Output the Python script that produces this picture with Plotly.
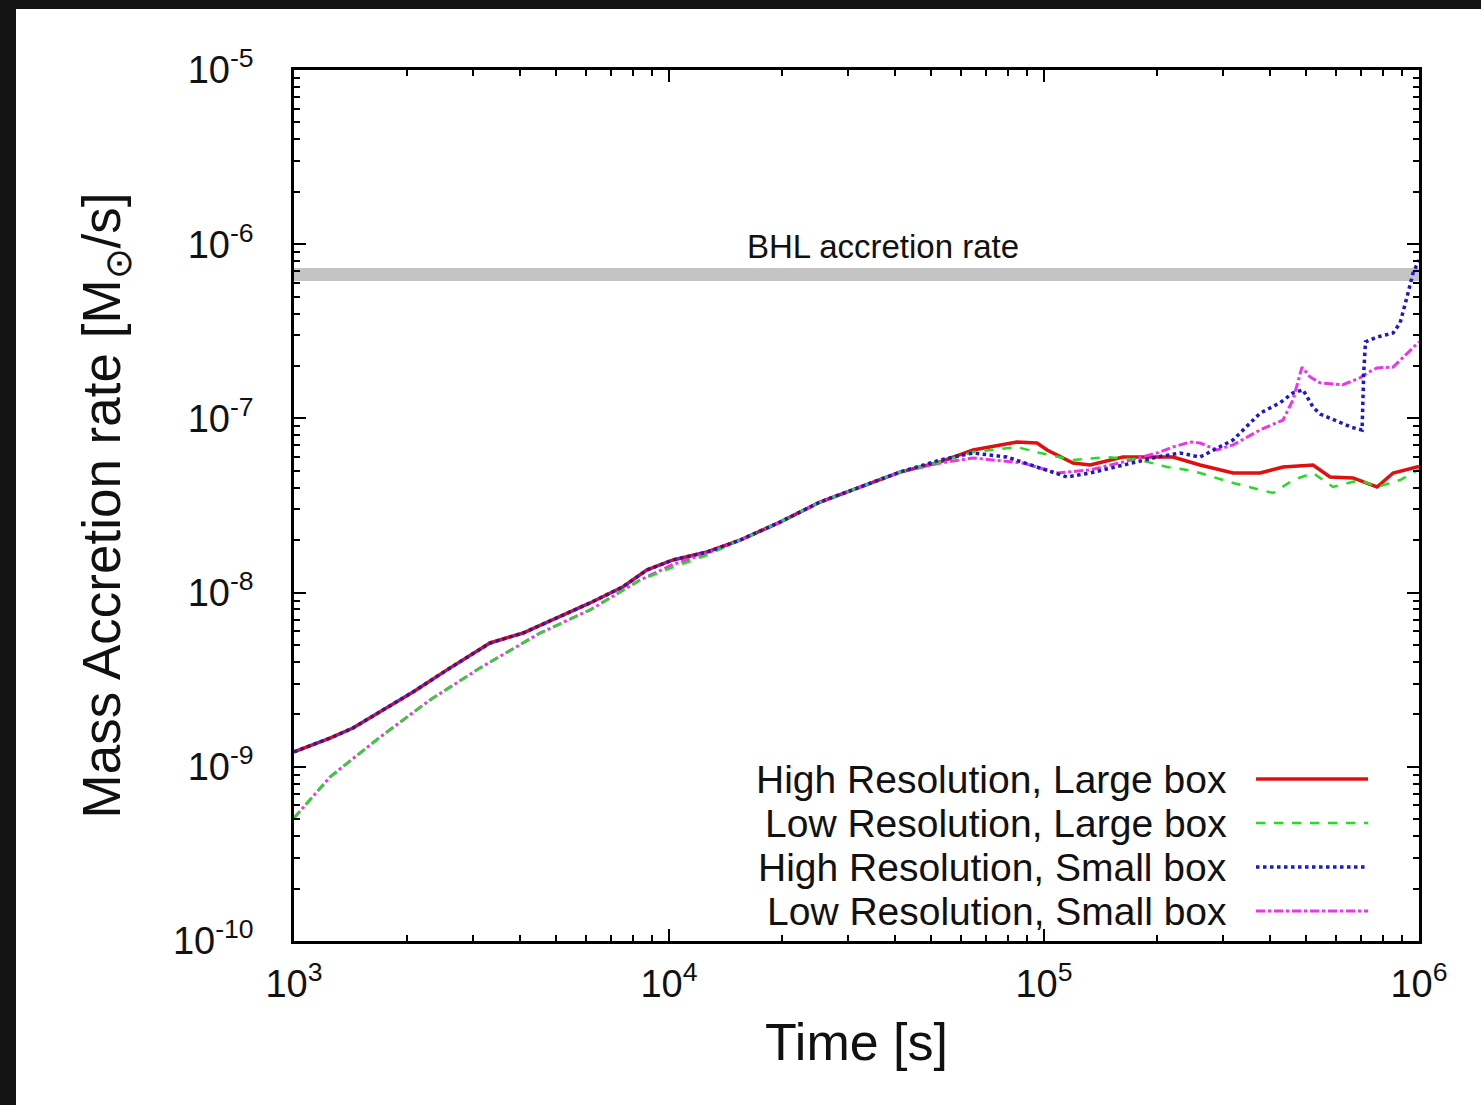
import plotly.graph_objects as go

# ---------------- data ----------------
red_t = [1000, 1247, 1436, 1696, 2077, 2559, 3332, 4080, 5027, 6156, 7539, 8737,
         10250, 12630, 15460, 19770, 25270, 32310, 41300, 52800, 64680, 84720,
         95790, 101900, 119500, 132700, 162400, 180300, 220800, 260600, 319200,
         376700, 433900, 521600, 579000, 666800, 772700, 852800, 987800, 1000000]
red_r = [1.22e-9, 1.46e-9, 1.67e-9, 2.06e-9, 2.69e-9, 3.60e-9, 5.14e-9, 5.86e-9,
         7.15e-9, 8.72e-9, 1.08e-8, 1.35e-8, 1.54e-8, 1.71e-8, 2.00e-8, 2.54e-8,
         3.31e-8, 4.04e-8, 4.92e-8, 5.62e-8, 6.59e-8, 7.32e-8, 7.22e-8, 6.59e-8,
         5.54e-8, 5.40e-8, 6.00e-8, 6.00e-8, 6.00e-8, 5.40e-8, 4.86e-8, 4.86e-8,
         5.26e-8, 5.40e-8, 4.61e-8, 4.55e-8, 4.04e-8, 4.86e-8, 5.26e-8, 5.30e-8]

green_t = [1000, 1247, 1696, 2305, 3133, 4529, 6156, 8369, 10250, 12630, 15460,
           19770, 25270, 32310, 41300, 52800, 64680, 84720, 97570, 119500, 147200,
           180300, 212800, 240600, 260600, 319200, 408100, 461300, 521600, 589800,
           696000, 772700, 890200, 1000000]
green_r = [5.08e-10, 8.74e-10, 1.48e-9, 2.42e-9, 3.69e-9, 5.86e-9, 7.95e-9, 1.18e-8,
           1.40e-8, 1.64e-8, 2.00e-8, 2.54e-8, 3.31e-8, 4.04e-8, 4.92e-8, 5.62e-8,
           6.41e-8, 6.85e-8, 6.33e-8, 5.77e-8, 6.00e-8, 5.77e-8, 5.26e-8, 5.06e-8,
           4.86e-8, 4.26e-8, 3.73e-8, 4.43e-8, 4.86e-8, 4.04e-8, 4.43e-8, 4.04e-8,
           4.43e-8, 5.10e-8]

blue_t = [1000, 1247, 1436, 1696, 2077, 2559, 3332, 4080, 5027, 6156, 7539, 8737,
          10250, 12630, 15460, 19770, 25270, 32310, 41300, 52800, 64680, 79650,
          97570, 115200, 132700, 162400, 200100, 230500, 260600, 319200, 376700,
          426000, 461300, 490600, 521600, 545000, 568500, 600000, 627000, 660000,
          705000, 712000, 720000, 772700, 852800, 890200, 929000, 963800, 1000000]
blue_r = [1.22e-9, 1.46e-9, 1.67e-9, 2.06e-9, 2.69e-9, 3.60e-9, 5.14e-9, 5.86e-9,
          7.15e-9, 8.72e-9, 1.08e-8, 1.35e-8, 1.54e-8, 1.71e-8, 2.00e-8, 2.54e-8,
          3.31e-8, 4.04e-8, 4.92e-8, 5.77e-8, 6.33e-8, 6.00e-8, 5.19e-8, 4.61e-8,
          4.86e-8, 5.40e-8, 6.00e-8, 6.33e-8, 6.00e-8, 7.52e-8, 1.07e-7, 1.23e-7,
          1.40e-7, 1.46e-7, 1.16e-7, 1.06e-7, 1.02e-7, 9.8e-8, 9.41e-8, 8.9e-8,
          8.58e-8, 1.82e-7, 2.75e-7, 2.93e-7, 3.09e-7, 3.53e-7, 4.98e-7, 6.83e-7,
          8.11e-7]

magenta_t = [1000, 1247, 1696, 2305, 3133, 4529, 6156, 8369, 10250, 12630, 15460,
             19770, 25270, 32310, 41300, 52800, 64680, 87900, 108300, 132700,
             162400, 200100, 220800, 245100, 260600, 289300, 319200, 376700, 433900,
             461300, 487500, 512100, 544500, 627000, 696000, 726600, 772700, 852800,
             906800, 987800, 1000000]
magenta_r = [5.08e-10, 8.74e-10, 1.48e-9, 2.42e-9, 3.69e-9, 5.86e-9, 7.95e-9,
             1.18e-8, 1.45e-8, 1.68e-8, 2.00e-8, 2.54e-8, 3.31e-8, 4.04e-8, 4.92e-8,
             5.54e-8, 5.93e-8, 5.54e-8, 4.86e-8, 5.06e-8, 5.62e-8, 6.33e-8, 6.85e-8,
             7.32e-8, 7.22e-8, 6.59e-8, 7.04e-8, 8.58e-8, 9.79e-8, 1.28e-7, 1.97e-7,
             1.73e-7, 1.60e-7, 1.56e-7, 1.71e-7, 1.82e-7, 1.95e-7, 1.97e-7, 2.25e-7,
             2.71e-7, 2.75e-7]

bhl_t = [1000, 1000000]
bhl_rate = 6.7e-7

series_names = ["High Resolution, Large box", "Low Resolution, Large box",
                "High Resolution, Small box", "Low Resolution, Small box"]

x_tickvals = [1e3, 1e4, 1e5, 1e6]
x_ticktext = ["10<sup>3</sup>", "10<sup>4</sup>", "10<sup>5</sup>", "10<sup>6</sup>"]
y_tickvals = [1e-10, 1e-9, 1e-8, 1e-7, 1e-6, 1e-5]
y_ticktext = ["10<sup>-10</sup>", "10<sup>-9</sup>", "10<sup>-8</sup>",
              "10<sup>-7</sup>", "10<sup>-6</sup>", "10<sup>-5</sup>"]
x_minor = [m * d for d in x_tickvals[:-1] for m in range(2, 10)]
y_minor = [m * d for d in y_tickvals[:-1] for m in range(2, 10)]

# ---------------- layout geometry ----------------
W, H = 1481, 1105
ML, MR, MT, MB = 294, 62, 70, 164
PW, PH = W - ML - MR, H - MT - MB


def px_x(px):
    return (px - ML) / PW


def px_y(py):
    return (H - MB - py) / PH


FONT = "Liberation Sans, Arial, Helvetica, sans-serif"

colors = ["#e01010", "#22dd22", "#1a1acc", "#ee33ee"]
dashes = ["solid", "dash", "dot", "dashdot"]
widths = [3.5, 2.5, 3.5, 3]

fig = go.Figure()

fig.add_trace(go.Scatter(x=bhl_t, y=[bhl_rate] * len(bhl_t), mode="lines",
                         line=dict(color="#c4c4c4", width=13),
                         name="BHL accretion rate", showlegend=False,
                         hoverinfo="skip"))

all_t = [red_t, green_t, blue_t, magenta_t]
all_r = [red_r, green_r, blue_r, magenta_r]
draw_order = [0, 3, 1, 2]
for i in draw_order:
    fig.add_trace(go.Scatter(x=all_t[i], y=all_r[i], mode="lines",
                             name=series_names[i], showlegend=False,
                             line=dict(color=colors[i], dash=dashes[i],
                                       width=widths[i])))

shapes = [
    dict(type="rect", xref="paper", yref="paper", layer="below",
         x0=px_x(16), x1=px_x(W + 5), y0=px_y(H + 5), y1=px_y(9),
         fillcolor="white", line=dict(width=0)),
]
annotations = [
    dict(text="BHL accretion rate", xref="paper", yref="y", x=px_x(883),
         y=-6.174, yanchor="bottom", yshift=8, showarrow=False,
         font=dict(family=FONT, size=33, color="#111")),
]

# gnuplot-style legend: text on the left, line sample on the right
leg_rows = [779, 823, 867, 911]
for i in range(4):
    annotations.append(dict(text=series_names[i], xref="paper", yref="paper",
                            x=px_x(1229), y=px_y(leg_rows[i]), xanchor="right",
                            yanchor="middle", showarrow=False,
                            font=dict(family=FONT, size=39, color="#111")))
    shapes.append(dict(type="line", xref="paper", yref="paper",
                       x0=px_x(1256), x1=px_x(1368), y0=px_y(leg_rows[i]),
                       y1=px_y(leg_rows[i]),
                       line=dict(color=colors[i], dash=dashes[i], width=widths[i])))

axis_common = dict(type="log", showline=True, linecolor="black", linewidth=2.5,
                   mirror="allticks", ticks="inside", ticklen=12, tickwidth=2,
                   tickcolor="black", showgrid=False, zeroline=False)

fig.update_xaxes(**axis_common, range=[3, 6], tickvals=x_tickvals,
                 ticktext=x_ticktext, ticklabelstandoff=8,
                 minor=dict(tickvals=x_minor, ticks="inside", ticklen=6,
                            tickwidth=1.5, tickcolor="black", showgrid=False),
                 tickfont=dict(family=FONT, size=38, color="#111"),
                 title=dict(text="Time [s]", standoff=20,
                            font=dict(family=FONT, size=52, color="#111")))
fig.update_yaxes(**axis_common, range=[-10, -5], tickvals=y_tickvals,
                 ticktext=y_ticktext, ticklabelstandoff=30,
                 minor=dict(tickvals=y_minor, ticks="inside", ticklen=6,
                            tickwidth=1.5, tickcolor="black", showgrid=False),
                 tickfont=dict(family=FONT, size=38, color="#111"),
                 title=dict(text="Mass Accretion rate [M<sub>⊙</sub>/s]",
                            standoff=36,
                            font=dict(family=FONT, size=53, color="#111")))

fig.update_layout(width=W, height=H, margin=dict(l=ML, r=MR, t=MT, b=MB),
                  paper_bgcolor="#141414", plot_bgcolor="white",
                  showlegend=False, shapes=shapes, annotations=annotations)

fig.write_html("out.html")
